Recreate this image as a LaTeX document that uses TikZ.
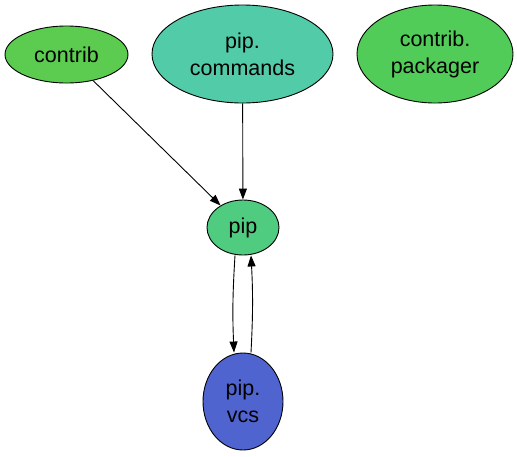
\documentclass[tikz,border=0pt]{standalone}
\usepackage{fontspec}
\setmainfont{Liberation Sans}
\usetikzlibrary{shapes.geometric,arrows.meta,calc}
\definecolor{cgreen}{RGB}{92,204,80}
\definecolor{cpack}{RGB}{82,204,88}
\definecolor{cteal}{RGB}{82,204,168}
\definecolor{cpip}{RGB}{80,204,128}
\definecolor{cvcs}{RGB}{80,100,208}
\tikzset{
  mod/.style={ellipse, draw=black, line width=0.9pt, inner sep=0pt, align=center,
    font=\fontsize{21.5}{27}\selectfont},
  edge/.style={draw=black, line width=0.9pt, -{Triangle[length=11pt,width=8pt]}}
}
\begin{document}
\begin{tikzpicture}[x=1pt,y=-1pt]
\useasboundingbox (0,0) rectangle (517,456);
\node[mod, fill=cgreen, minimum width=123pt, minimum height=57pt] (contrib) at (66.5,54.5) {contrib};
\node[mod, fill=cteal, minimum width=181pt, minimum height=98pt] (commands) at (242.5,54) {pip.\\commands};
\node[mod, fill=cpack, minimum width=156pt, minimum height=98pt] (packager) at (435,54) {contrib.\\packager};
\node[mod, fill=cpip, minimum width=72pt, minimum height=55pt] (pip) at (243,227.5) {pip};
\node[mod, fill=cvcs, minimum width=80pt, minimum height=97pt] (vcs) at (243,401.5) {pip.\\vcs};
\draw[edge] (contrib) -- (pip);
\draw[edge] (commands) -- (pip);
\draw[edge] ([xshift=-8pt]pip.south) to[bend right=3] ([xshift=-9pt]vcs.north);
\draw[edge] ([xshift=8pt]vcs.north) to[bend right=3] ([xshift=8pt]pip.south);
\end{tikzpicture}
\end{document}
